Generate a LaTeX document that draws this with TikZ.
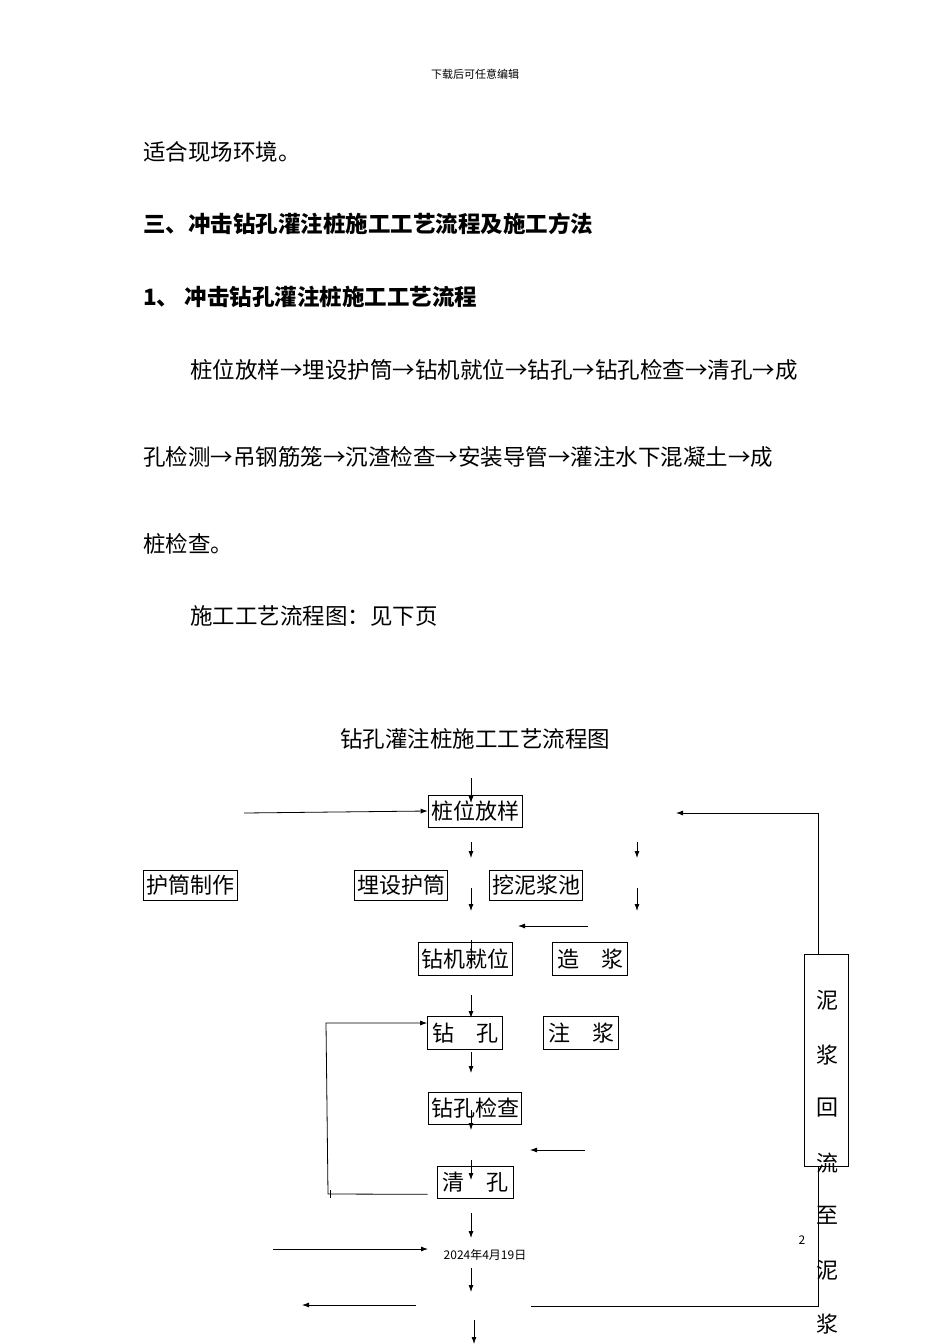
\documentclass[tikz,border=0pt]{standalone}
\usepackage{fontspec}
\setmainfont{Noto Sans CJK SC}
\begin{document}
\begin{tikzpicture}[x=1pt,y=-1pt,
  bx/.style={draw,line width=0.6pt,inner sep=0pt,minimum height=32pt,font=\fontsize{22}{24}\selectfont},
  txt/.style={anchor=west,inner sep=0pt,font=\fontsize{22.5}{24}\selectfont},
  arr/.style={-{Latex[length=7pt,width=5pt]},line width=0.8pt},
  ln/.style={line width=0.8pt}]
\usetikzlibrary{arrows.meta}
\useasboundingbox (0,0) rectangle (950,1344);
\node[font=\fontsize{11}{12}\selectfont] (hdr) at (475,74) {下载后可任意编辑};
\node[txt] (p1) at (143,152) {适合现场环境。};
\node[txt,font=\fontsize{22.5}{24}\selectfont\bfseries] (p2) at (143,224) {三、冲击钻孔灌注桩施工工艺流程及施工方法};
\node[txt,font=\fontsize{22.5}{24}\selectfont\bfseries] (p3) at (143,297) {1、 冲击钻孔灌注桩施工工艺流程};
\node[txt] (p4) at (190,370) {桩位放样→埋设护筒→钻机就位→钻孔→钻孔检查→清孔→成};
\node[txt] (p5) at (143,457) {孔检测→吊钢筋笼→沉渣检查→安装导管→灌注水下混凝土→成};
\node[txt] (p6) at (143,544) {桩检查。};
\node[txt] (p7) at (190,616) {施工工艺流程图：见下页};
\node[font=\fontsize{22.5}{24}\selectfont] (title) at (475,739) {钻孔灌注桩施工工艺流程图};
% boxes
\node[bx,minimum width=94pt] (a) at (475,811) {桩位放样};
\node[bx,minimum width=94pt,minimum height=30pt] (b) at (190,885) {护筒制作};
\node[bx,minimum width=93pt,minimum height=30pt] (c) at (401,885) {埋设护筒};
\node[bx,minimum width=93pt,minimum height=30pt] (d) at (536,885) {挖泥浆池};
\node[bx,minimum width=94pt,minimum height=33pt] (e) at (465,959) {钻机就位};
\node[bx,minimum width=75pt,minimum height=33pt] (f) at (590,959) {造\hspace{22pt}浆};
\node[bx,minimum width=75pt,minimum height=33pt] (g) at (465,1033) {钻\hspace{22pt}孔};
\node[bx,minimum width=75pt,minimum height=33pt] (h) at (581,1033) {注\hspace{22pt}浆};
\node[bx,minimum width=93pt] (i) at (475,1108) {钻孔检查};
\node[bx,minimum width=76pt] (j) at (475,1182) {清\hspace{22pt}孔};
\node[draw,line width=0.6pt,minimum width=44pt,minimum height=212pt,inner sep=0pt] (k) at (826,1060) {};
\foreach \t/\yy in {泥/1000,浆/1055,回/1108,流/1163,至/1215,泥/1270,浆/1324}
  \node[font=\fontsize{22}{24}\selectfont,inner sep=0pt] at (827,\yy) {\t};
\node[font=\fontsize{12}{13}\selectfont] (date) at (485,1255) {2024年4月19日};
\node[font=\fontsize{12}{13}\selectfont] (pg) at (802,1240) {2};
% coordinates
\coordinate (t0) at (471,778);
\coordinate (l0) at (244,813);
\coordinate (r0) at (676,813);
\coordinate (rc) at (818,813);
\coordinate (rb) at (818,1306);
\coordinate (rbe) at (531,1306);
% arrows
\draw[arr] (t0) -- (471,803);
\draw[arr] (l0) -- (a.west);
\draw[arr] (k.north -| rc) -- (rc) -- (r0);
\draw[arr] (471,842) -- (471,858);
\draw[arr] (637,842) -- (637,858);
\draw[arr] (471,888) -- (471,911);
\draw[arr] (637,888) -- (637,911);
\draw[arr] (588,926) -- (518,926);
\draw[arr] (471,940) -- (471,965);
\draw[arr] (471,995) -- (471,1018);
\draw[arr] (471,1052) -- (471,1073);
\draw[arr] (471,1110) -- (471,1130);
\draw[arr] (585,1150) -- (530,1150);
\draw[arr] (471,1160) -- (471,1180);
\draw[arr] (j.south west) ++(-9,-4) coordinate (jl) -- (328,1194) -- (326,1023) -- (g.west |- 0,1023);
\draw[ln] (330,1190) -- (330,1198);
\draw[arr] (471,1213) -- (471,1238);
\draw[arr] (273,1249) -- (428,1249);
\draw[arr] (471,1268) -- (471,1292);
\draw[arr] (416,1305) -- (302,1305);
\draw[ln] (rbe) -- (rb) -- (k.south -| rc);
\draw[arr] (474,1320) -- (474,1344);
\end{tikzpicture}
\end{document}
